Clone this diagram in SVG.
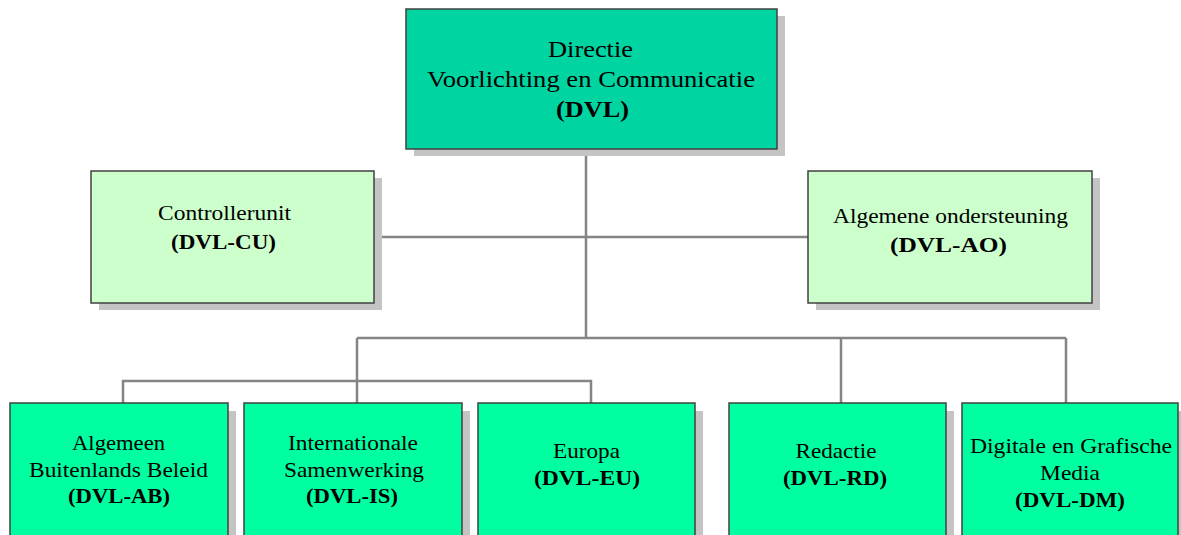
<svg xmlns="http://www.w3.org/2000/svg" width="1181" height="535" viewBox="0 0 1181 535">
<style>
.sh{fill:#c4c4c4}
.box{stroke:#404040;stroke-width:1.5}
.top{fill:#00d4a0}
.mid{fill:#ccffcc}
.bot{fill:#00ffa0}
.t{font-family:"Liberation Serif",serif;fill:#000;text-anchor:middle;font-size:21px}
.tt{font-size:23px}
.b{font-weight:bold}
.c{fill:none;stroke:#858585;stroke-width:2.5}
</style>
<rect width="1181" height="535" fill="#fff"/>
<g id="connectors">
<path class="c" d="M586 149V338M374 237H808M357 338H1066M357 338V403M841 338V403M1066 338V403M123 403V381H591V403"/>
</g>
<g id="dvl">
<rect class="sh" x="414" y="16" width="371" height="140"/>
<rect class="box top" x="406" y="9" width="371" height="140"/>
<text class="t tt" x="590.5" y="57" textLength="85" lengthAdjust="spacingAndGlyphs">Directie</text>
<text class="t tt" x="591" y="87" textLength="328" lengthAdjust="spacingAndGlyphs">Voorlichting en Communicatie</text>
<text class="t tt b" x="592.5" y="117" textLength="73" lengthAdjust="spacingAndGlyphs">(DVL)</text>
</g>
<g id="cu">
<rect class="sh" x="99" y="178" width="283" height="132"/>
<rect class="box mid" x="91" y="171" width="283" height="132"/>
<text class="t" x="224.5" y="220" textLength="133" lengthAdjust="spacingAndGlyphs">Controllerunit</text>
<text class="t b" x="223.5" y="249" textLength="105" lengthAdjust="spacingAndGlyphs">(DVL-CU)</text>
</g>
<g id="ao">
<rect class="sh" x="816" y="178" width="284" height="132"/>
<rect class="box mid" x="808" y="171" width="284" height="132"/>
<text class="t" x="950.5" y="223" textLength="235" lengthAdjust="spacingAndGlyphs">Algemene ondersteuning</text>
<text class="t b" x="948.5" y="252" textLength="117" lengthAdjust="spacingAndGlyphs">(DVL-AO)</text>
</g>
<g id="ab">
<rect class="sh" x="18" y="411" width="218" height="140"/>
<rect class="box bot" x="10" y="403" width="218" height="140"/>
<text class="t" x="118.5" y="450" textLength="93" lengthAdjust="spacingAndGlyphs">Algemeen</text>
<text class="t" x="118.5" y="477" textLength="179" lengthAdjust="spacingAndGlyphs">Buitenlands Beleid</text>
<text class="t b" x="119" y="503" textLength="102" lengthAdjust="spacingAndGlyphs">(DVL-AB)</text>
</g>
<g id="is">
<rect class="sh" x="252" y="411" width="218" height="140"/>
<rect class="box bot" x="244" y="403" width="218" height="140"/>
<text class="t" x="353" y="450" textLength="130" lengthAdjust="spacingAndGlyphs">Internationale</text>
<text class="t" x="354" y="477" textLength="140" lengthAdjust="spacingAndGlyphs">Samenwerking</text>
<text class="t b" x="352" y="503" textLength="92" lengthAdjust="spacingAndGlyphs">(DVL-IS)</text>
</g>
<g id="eu">
<rect class="sh" x="486" y="411" width="217" height="140"/>
<rect class="box bot" x="478" y="403" width="217" height="140"/>
<text class="t" x="586.5" y="458" textLength="67" lengthAdjust="spacingAndGlyphs">Europa</text>
<text class="t b" x="587" y="485" textLength="106" lengthAdjust="spacingAndGlyphs">(DVL-EU)</text>
</g>
<g id="rd">
<rect class="sh" x="737" y="411" width="217" height="140"/>
<rect class="box bot" x="729" y="403" width="217" height="140"/>
<text class="t" x="836" y="458" textLength="81" lengthAdjust="spacingAndGlyphs">Redactie</text>
<text class="t b" x="835" y="485" textLength="104" lengthAdjust="spacingAndGlyphs">(DVL-RD)</text>
</g>
<g id="dm">
<rect class="sh" x="970" y="411" width="216" height="140"/>
<rect class="box bot" x="962" y="403" width="216" height="140"/>
<text class="t" x="1071" y="453" textLength="202" lengthAdjust="spacingAndGlyphs">Digitale en Grafische</text>
<text class="t" x="1070" y="480" textLength="60" lengthAdjust="spacingAndGlyphs">Media</text>
<text class="t b" x="1070" y="507" textLength="110" lengthAdjust="spacingAndGlyphs">(DVL-DM)</text>
</g>
</svg>
